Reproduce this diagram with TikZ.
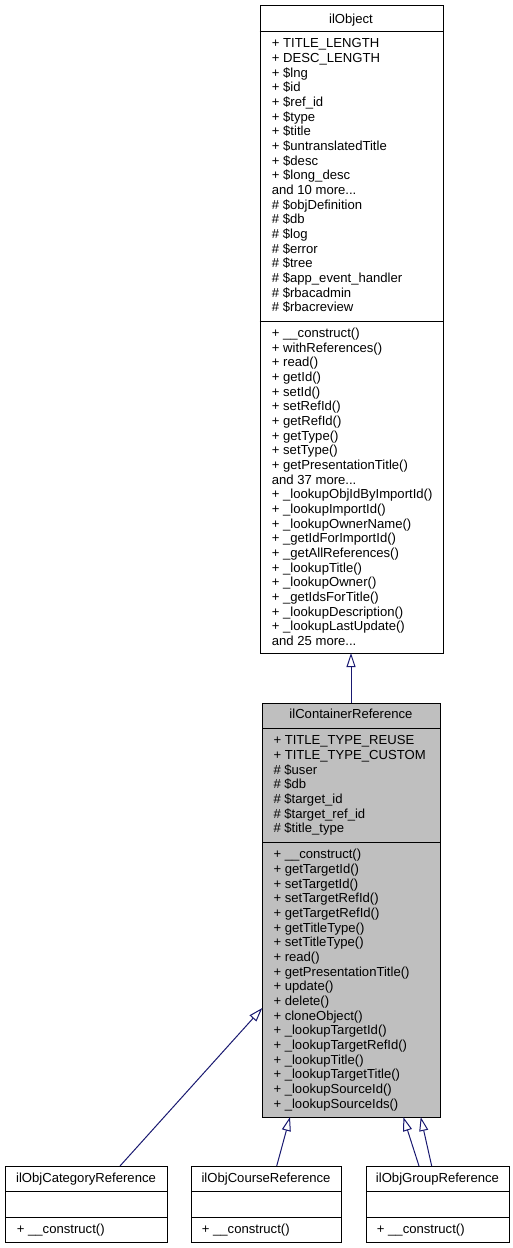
\documentclass[tikz,border=0pt]{standalone}
\usepackage{fontspec}
\setmainfont{Liberation Sans}
\usetikzlibrary{arrows.meta}
\definecolor{edgeblue}{HTML}{191970}
\definecolor{boxgray}{HTML}{BFBFBF}
\definecolor{boxline}{HTML}{000000}
\newcommand\mythreedots{.{}.{}.}
\tikzset{
  txt/.style={inner sep=0pt, anchor=base west, font=\fontsize{13.1}{14.67}\selectfont},
  ttl/.style={inner sep=0pt, anchor=base, font=\fontsize{13.1}{14.67}\selectfont},
  umlbox/.style={draw=boxline, line width=1pt, inner sep=0pt, anchor=north west, fill=white},
  sep/.style={draw=boxline, line width=1pt},
  inherit/.style={draw=edgeblue, line width=1pt, -{Triangle[open, length=14pt, width=9pt, fill=white]}},
}
\begin{document}
\begin{tikzpicture}[x=1pt, y=-1pt]
\useasboundingbox (0,0) rectangle (513,1248);

% ilObject
\node[umlbox, minimum width=183pt, minimum height=648pt] (obj) at (259.5,5) {};
\draw[sep] (259.5,31.7) -- (442.5,31.7);
\draw[sep] (259.5,321) -- (442.5,321);
\node[ttl] (objT) at (351,23) {ilObject};
\foreach \t [count=\i] in {
  {+ TITLE\_LENGTH},{+ DESC\_LENGTH},{+ \$lng},{+ \$id},{+ \$ref\_id},{+ \$type},{+ \$title},
  {+ \$untranslatedTitle},{+ \$desc},{+ \$long\_desc},{and 10 more\mythreedots},{\# \$objDefinition},
  {\# \$db},{\# \$log},{\# \$error},{\# \$tree},{\# \$app\_event\_handler},{\# \$rbacadmin},{\# \$rbacreview}}
  \node[txt] (oa\i) at (271.7,{47.7+(\i-1)*14.67}) {\t};
\foreach \t [count=\i] in {
  {+ \_\_construct()},{+ withReferences()},{+ read()},{+ getId()},{+ setId()},{+ setRefId()},
  {+ getRefId()},{+ getType()},{+ setType()},{+ getPresentationTitle()},{and 37 more\mythreedots},
  {+ \_lookupObjIdByImportId()},{+ \_lookupImportId()},{+ \_lookupOwnerName()},{+ \_getIdForImportId()},
  {+ \_getAllReferences()},{+ \_lookupTitle()},{+ \_lookupOwner()},{+ \_getIdsForTitle()},
  {+ \_lookupDescription()},{+ \_lookupLastUpdate()},{and 25 more\mythreedots}}
  \node[txt] (om\i) at (271.7,{337.5+(\i-1)*14.67}) {\t};

% ilContainerReference
\node[umlbox, fill=boxgray, minimum width=178pt, minimum height=413.5pt] (cref) at (262,703.3) {};
\draw[sep] (262,728.6) -- (440,728.6);
\draw[sep] (262,842.2) -- (440,842.2);
\node[ttl] (crefT) at (351,718) {ilContainerReference};
\foreach \t [count=\i] in {
  {+ TITLE\_TYPE\_REUSE},{+ TITLE\_TYPE\_CUSTOM},{\# \$user},{\# \$db},{\# \$target\_id},
  {\# \$target\_ref\_id},{\# \$title\_type}}
  \node[txt] (ca\i) at (273.3,{744.8+(\i-1)*14.67}) {\t};
\foreach \t [count=\i] in {
  {+ \_\_construct()},{+ getTargetId()},{+ setTargetId()},{+ setTargetRefId()},{+ getTargetRefId()},
  {+ getTitleType()},{+ setTitleType()},{+ read()},{+ getPresentationTitle()},{+ update()},
  {+ delete()},{+ cloneObject()},{+ \_lookupTargetId()},{+ \_lookupTargetRefId()},{+ \_lookupTitle()},
  {+ \_lookupTargetTitle()},{+ \_lookupSourceId()},{+ \_lookupSourceIds()}}
  \node[txt] (cm\i) at (273.3,{858.8+(\i-1)*14.67}) {\t};

% bottom classes
\node[umlbox, minimum width=162pt, minimum height=76pt] (cat) at (5,1166) {};
\draw[sep] (5,1191) -- (167,1191);
\draw[sep] (5,1217) -- (167,1217);
\node[ttl] (catT) at (86,1182) {ilObjCategoryReference};
\node[txt] (catM) at (16.7,1233) {+ \_\_construct()};

\node[umlbox, minimum width=150pt, minimum height=76pt] (crs) at (191,1166) {};
\draw[sep] (191,1191) -- (341,1191);
\draw[sep] (191,1217) -- (341,1217);
\node[ttl] (crsT) at (266,1182) {ilObjCourseReference};
\node[txt] (crsM) at (201.7,1233) {+ \_\_construct()};

\node[umlbox, minimum width=143pt, minimum height=76pt] (grp) at (366,1166) {};
\draw[sep] (366,1191) -- (509,1191);
\draw[sep] (366,1217) -- (509,1217);
\node[ttl] (grpT) at (437.5,1182) {ilObjGroupReference};
\node[txt] (grpM) at (376.7,1233) {+ \_\_construct()};

% connectors
\coordinate (objB) at (351,653);
\coordinate (crefTop) at (351,703.3);
\coordinate (crefL) at (262.3,1008);
\coordinate (crefB1) at (290,1117);
\coordinate (crefB2) at (403.3,1117);
\coordinate (crefB3) at (420.7,1117);
\coordinate (catTop) at (120,1166);
\coordinate (crsTop) at (276.7,1166);
\coordinate (grpTop1) at (419,1166);
\coordinate (grpTop2) at (431.7,1166);

\draw[inherit] (crefTop) -- (objB);
\draw[inherit] (catTop) -- (crefL);
\draw[inherit] (crsTop) -- (crefB1);
\draw[inherit] (grpTop1) -- (crefB2);
\draw[inherit] (grpTop2) -- (crefB3);
\end{tikzpicture}
\end{document}
